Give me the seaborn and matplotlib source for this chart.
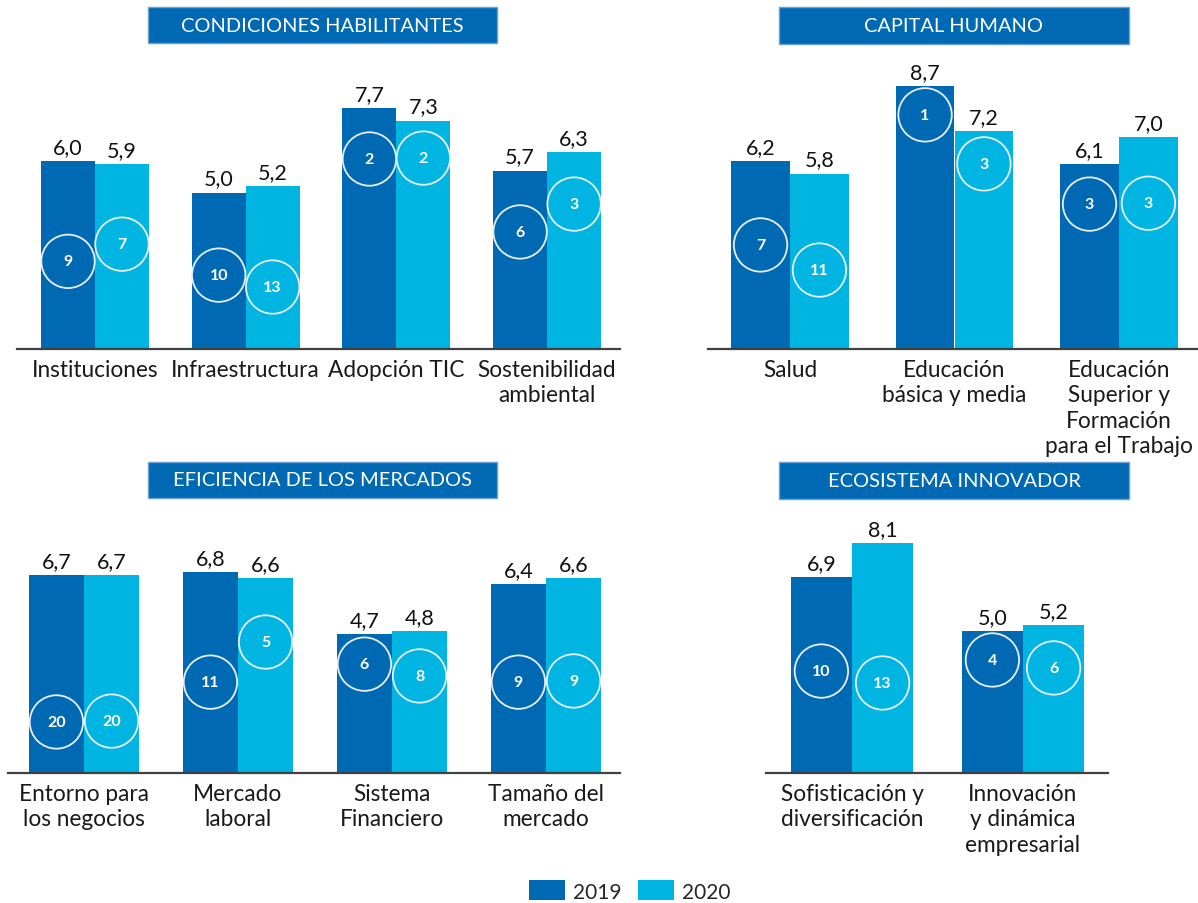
import matplotlib
matplotlib.use("Agg")
import matplotlib.pyplot as plt
from matplotlib.patches import Rectangle, Patch
import pandas as pd
import seaborn as sns

# ---- data -------------------------------------------------------------
years = ["2019", "2020"]

titles = ["CONDICIONES HABILITANTES", "CAPITAL HUMANO",
          "EFICIENCIA DE LOS MERCADOS", "ECOSISTEMA INNOVADOR"]

cats_hab = ["Instituciones", "Infraestructura", "Adopción TIC",
            "Sostenibilidad\nambiental"]
hab_2019 = [6.0, 5.0, 7.7, 5.7]
hab_2020 = [5.9, 5.2, 7.3, 6.3]
hab_rank_2019 = [9, 10, 2, 6]
hab_rank_2020 = [7, 13, 2, 3]

cats_cap = ["Salud", "Educación\nbásica y media",
            "Educación\nSuperior y\nFormación\npara el Trabajo"]
cap_2019 = [6.2, 8.7, 6.1]
cap_2020 = [5.8, 7.2, 7.0]
cap_rank_2019 = [7, 1, 3]
cap_rank_2020 = [11, 3, 3]

cats_mer = ["Entorno para\nlos negocios", "Mercado\nlaboral",
            "Sistema\nFinanciero", "Tamaño del\nmercado"]
mer_2019 = [6.7, 6.8, 4.7, 6.4]
mer_2020 = [6.7, 6.6, 4.8, 6.6]
mer_rank_2019 = [20, 11, 6, 9]
mer_rank_2020 = [20, 5, 8, 9]

cats_eco = ["Sofisticación y\ndiversificación",
            "Innovación\ny dinámica\nempresarial"]
eco_2019 = [6.9, 5.0]
eco_2020 = [8.1, 5.2]
eco_rank_2019 = [10, 4]
eco_rank_2020 = [13, 6]

# vertical placement of the rank badges (in value units)
badge_hab = ([2.8, 2.36, 6.07, 3.74], [3.35, 1.98, 6.1, 4.63])
badge_cap = ([3.44, 7.74, 4.79], [2.61, 6.12, 4.82])
badge_mer = ([1.73, 3.08, 3.69, 3.08], [1.76, 4.44, 3.29, 3.12])
badge_eco = ([3.59, 3.98], [3.17, 3.70])

# ---- style ------------------------------------------------------------
DARK = "#0069B4"
LIGHT = "#00B5E2"
sns.set_theme(style="white")
plt.rcParams["font.family"] = ["Lato", "DejaVu Sans"]

W, H = 1198, 904
fig = plt.figure(figsize=(W / 100, H / 100), dpi=100)


def panel(cats, v19, v20, r19, r20, badges, title, box, left, right,
          base_y, top_y, px_per_unit, step, first_center):
    ax = fig.add_axes([left / W, 1 - base_y / H, (right - left) / W,
                       (base_y - top_y) / H])
    df = pd.DataFrame({
        "cat": cats * 2,
        "year": [years[0]] * len(cats) + [years[1]] * len(cats),
        "value": list(v19) + list(v20),
    })
    sns.barplot(data=df, x="cat", y="value", hue="year", order=cats,
                hue_order=years, palette=[DARK, LIGHT], saturation=1,
                width=0.716, gap=0, errorbar=None, legend=False, ax=ax,
                linewidth=0)
    ax.set_xlim((left - first_center) / step, (right - first_center) / step)
    ax.set_ylim(0, (base_y - top_y) / px_per_unit)
    for s in ["top", "left", "right"]:
        ax.spines[s].set_visible(False)
    ax.spines["bottom"].set_color("#404040")
    ax.spines["bottom"].set_linewidth(1.6)
    ax.set_yticks([])
    ax.set_xlabel("")
    ax.set_ylabel("")
    ax.tick_params(axis="x", length=0, pad=7, labelsize=16.3,
                   labelcolor="#1a1a1a")
    for lbl in ax.get_xticklabels():
        lbl.set_linespacing(1.27)
        lbl.set_multialignment("center")

    ranks = [r19, r20]
    for k, cont in enumerate(ax.containers):
        vals = [v19, v20][k]
        ax.bar_label(cont, labels=[f"{v:.1f}".replace(".", ",") for v in vals],
                     padding=3, fontsize=15.5, color="#111111")
        for j, bar in enumerate(cont):
            cx = bar.get_x() + bar.get_width() / 2
            cy = badges[k][j]
            ax.scatter([cx], [cy], s=1480, facecolor="none",
                       edgecolor="#e8eef5", linewidth=1.3, zorder=3)
            ax.text(cx, cy, str(ranks[k][j]), ha="center", va="center",
                    color="white", fontsize=11.5, fontweight="bold", zorder=4)

    bx0, by0, bx1, by1 = box
    fig.patches.append(Rectangle((bx0 / W, 1 - by1 / H), (bx1 - bx0) / W,
                                 (by1 - by0) / H, transform=fig.transFigure,
                                 facecolor=DARK, edgecolor="#6f9fd3",
                                 linewidth=1.0, zorder=0))
    fig.text((bx0 + bx1) / 2 / W, 1 - (by0 + by1) / 2 / H, title,
             ha="center", va="center", color="white", fontsize=14.4)
    return ax


panel(cats_hab, hab_2019, hab_2020, hab_rank_2019, hab_rank_2020, badge_hab,
      titles[0], (148, 8, 497, 44), 17, 620, 350, 60, 31.3, 150.7, 95)
panel(cats_cap, cap_2019, cap_2020, cap_rank_2019, cap_rank_2020, badge_cap,
      titles[1], (779, 8, 1129, 45), 708, 1198, 350, 60, 30.25, 164.5, 790)
panel(cats_mer, mer_2019, mer_2020, mer_rank_2019, mer_rank_2020, badge_mer,
      titles[2], (148, 463, 497, 499), 8, 620, 774, 520, 29.5, 154, 84)
panel(cats_eco, eco_2019, eco_2020, eco_rank_2019, eco_rank_2020, badge_eco,
      titles[3], (779, 463, 1129, 500), 766, 1108, 774, 520, 28.4, 171, 852)

handles = [Patch(facecolor=DARK, edgecolor="none"),
           Patch(facecolor=LIGHT, edgecolor="none")]
fig.legend(handles, years, loc="center", bbox_to_anchor=(630 / W, 1 - 892 / H),
           ncol=2, frameon=False, fontsize=15, handlelength=1.7,
           handleheight=1.1, handletextpad=0.4, columnspacing=0.8)

fig.savefig("out.png", dpi=100)
